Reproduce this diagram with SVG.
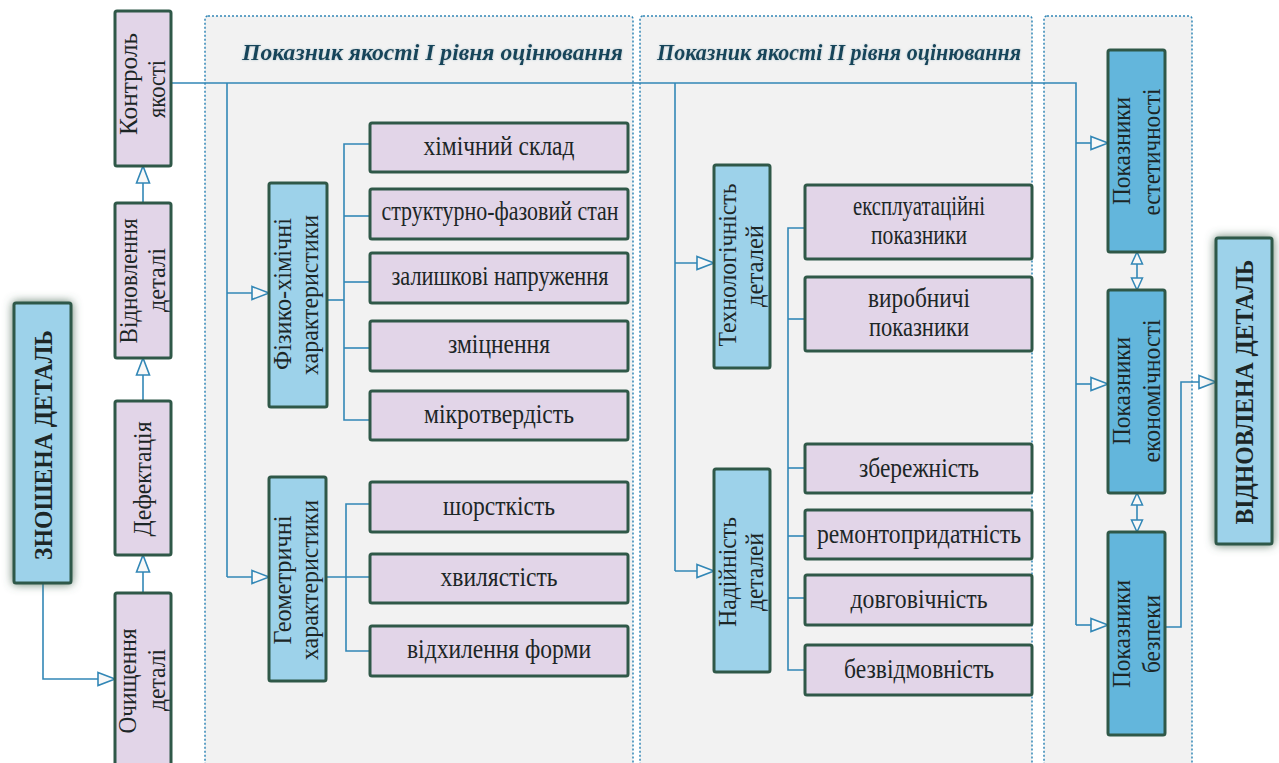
<svg xmlns="http://www.w3.org/2000/svg" width="1279" height="763" viewBox="0 0 1279 763">
<defs>
<style>
.panel{fill:#f2f2f2;stroke:#3287b6;stroke-width:1.5;stroke-dasharray:2 2}
.box{stroke:#2f5848;stroke-width:3}
.pur{fill:#e2d5e8}
.lb{fill:#9dd2ea}
.mb{fill:#63b6dc}
.th{font-family:"Liberation Serif","Times New Roman",serif;font-size:28px;fill:#1c2626;text-anchor:middle}
.tv{font-family:"Liberation Serif","Times New Roman",serif;font-size:26px;fill:#1c2626;text-anchor:middle}
.tb{font-family:"Liberation Serif","Times New Roman",serif;font-size:26px;font-weight:bold;fill:#1c2626;text-anchor:middle}
.title{font-family:"Liberation Serif","Times New Roman",serif;font-size:24px;font-weight:bold;font-style:italic;fill:#17455a}
.c{fill:none;stroke:#3287b6;stroke-width:1.6}
.ca{fill:none;stroke:#3287b6;stroke-width:1.6;marker-end:url(#ah)}
.cd{fill:none;stroke:#3287b6;stroke-width:1.6;marker-start:url(#ahs);marker-end:url(#ahs)}
</style>
<marker id="ah" markerUnits="userSpaceOnUse" markerWidth="20" markerHeight="16" refX="17" refY="7" orient="auto" overflow="visible">
<path d="M0,0.5 L17,7 L0,13.5 Z" fill="#f8f8f8" stroke="#3287b6" stroke-width="1.6"/>
</marker>
<marker id="ahs" markerUnits="userSpaceOnUse" markerWidth="14" markerHeight="12" refX="12" refY="6" orient="auto-start-reverse" overflow="visible">
<path d="M0,0.5 L12,6 L0,11.5 Z" fill="#f8f8f8" stroke="#3287b6" stroke-width="1.5"/>
</marker>
<marker id="af" markerUnits="userSpaceOnUse" markerWidth="12" markerHeight="10" refX="10" refY="4" orient="auto" overflow="visible">
<path d="M0,0 L10,4 L0,8 L3,4 Z" fill="#3287b6"/>
</marker>
<filter id="glow" x="-50%" y="-20%" width="200%" height="140%">
<feGaussianBlur in="SourceAlpha" stdDeviation="5" result="b"/>
<feFlood flood-color="#4a6a56" flood-opacity="0.85" result="f"/>
<feComposite in="f" in2="b" operator="in" result="s"/>
<feMerge><feMergeNode in="s"/><feMergeNode in="SourceGraphic"/></feMerge>
</filter>
<filter id="tglow" x="-5%" y="-30%" width="110%" height="160%">
<feGaussianBlur in="SourceAlpha" stdDeviation="1.2" result="b"/>
<feFlood flood-color="#8fb0bd" flood-opacity="0.7" result="f"/>
<feComposite in="f" in2="b" operator="in" result="s"/>
<feMerge><feMergeNode in="s"/><feMergeNode in="SourceGraphic"/></feMerge>
</filter>
</defs>

<rect width="1279" height="763" fill="#ffffff"/>

<g id="panels">
<rect class="panel" x="205" y="16" width="428" height="760" rx="3"/>
<rect class="panel" x="640" y="16" width="392" height="760" rx="3"/>
<rect class="panel" x="1044" y="16" width="148" height="760" rx="3"/>
<text class="title" x="242" y="60" textLength="381" lengthAdjust="spacingAndGlyphs" filter="url(#tglow)">Показник якості І рівня оцінювання</text>
<text class="title" x="657" y="60" textLength="364" lengthAdjust="spacingAndGlyphs" filter="url(#tglow)">Показник якості ІІ рівня оцінювання</text>
</g>

<g id="connectors">
<polyline class="c" points="171,83 1076,83 1076,625"/>
<line class="ca" x1="1076" y1="143" x2="1108" y2="143"/>
<line class="ca" x1="1076" y1="384" x2="1108" y2="384"/>
<line class="ca" x1="1076" y1="625" x2="1108" y2="625"/>
<polyline class="c" points="227,83 227,577"/>
<line class="ca" x1="227" y1="293" x2="269" y2="293"/>
<line class="ca" x1="227" y1="577" x2="269" y2="577"/>
<polyline class="c" points="675,83 675,571"/>
<line class="ca" x1="675" y1="263" x2="714" y2="263"/>
<line class="ca" x1="675" y1="571" x2="714" y2="571"/>
<line class="ca" x1="143" y1="593" x2="143" y2="555"/>
<line class="ca" x1="143" y1="401" x2="143" y2="358"/>
<line class="ca" x1="143" y1="203" x2="143" y2="166"/>
<polyline class="ca" points="43,583 43,679 115,679"/>
<polyline class="c" points="327,300 344,300"/>
<polyline class="c" points="370,144 344,144 344,420 370,420"/>
<line class="c" x1="344" y1="216" x2="370" y2="216"/>
<line class="c" x1="344" y1="282" x2="370" y2="282"/>
<line class="c" x1="344" y1="348" x2="370" y2="348"/>
<line class="c" x1="326" y1="577" x2="370" y2="577"/>
<polyline class="c" points="370,504 346,504 346,651 370,651"/>
<polyline class="c" points="805,228 788,228 788,670 805,670"/>
<line class="c" x1="788" y1="319" x2="805" y2="319"/>
<line class="c" x1="788" y1="468" x2="805" y2="468"/>
<line class="c" x1="788" y1="536" x2="805" y2="536"/>
<line class="c" x1="788" y1="598" x2="805" y2="598"/>
<line class="cd" x1="1137" y1="252" x2="1137" y2="290"/>
<line class="cd" x1="1137" y1="493" x2="1137" y2="532"/>
<polyline class="ca" points="1165,627 1181,627 1181,382 1216,382"/>
<line x1="1147.5" y1="313" x2="1147.5" y2="346" stroke="#3287b6" stroke-width="1.6" marker-end="url(#af)"/>
</g>

<g id="n-znoshena">
<rect class="box lb" x="14" y="303" width="57" height="280" rx="2" filter="url(#glow)"/>
<text class="tb" transform="translate(52,445) rotate(-90)" textLength="230" lengthAdjust="spacingAndGlyphs">ЗНОШЕНА ДЕТАЛЬ</text>
</g>
<g id="n-ochyshchennia">
<rect class="box pur" x="115" y="593" width="56" height="180" rx="2"/>
<text class="tv" transform="translate(136,681) rotate(-90)" textLength="105" lengthAdjust="spacingAndGlyphs">Очищення</text>
<text class="tv" transform="translate(165,680) rotate(-90)" textLength="62" lengthAdjust="spacingAndGlyphs">деталі</text>
</g>
<g id="n-defektatsiia">
<rect class="box pur" x="115" y="401" width="56" height="154" rx="2"/>
<text class="tv" transform="translate(151,479) rotate(-90)" textLength="115" lengthAdjust="spacingAndGlyphs">Дефектація</text>
</g>
<g id="n-vidnovlennia">
<rect class="box pur" x="115" y="203" width="56" height="155" rx="2"/>
<text class="tv" transform="translate(137,281) rotate(-90)" textLength="125" lengthAdjust="spacingAndGlyphs">Відновлення</text>
<text class="tv" transform="translate(165,280) rotate(-90)" textLength="64" lengthAdjust="spacingAndGlyphs">деталі</text>
</g>
<g id="n-kontrol">
<rect class="box pur" x="115" y="11" width="56" height="155" rx="2"/>
<text class="tv" transform="translate(137,84) rotate(-90)" textLength="102" lengthAdjust="spacingAndGlyphs">Контроль</text>
<text class="tv" transform="translate(165,89) rotate(-90)" textLength="58" lengthAdjust="spacingAndGlyphs">якості</text>
</g>

<g id="n-fizyko">
<rect class="box lb" x="269" y="183" width="58" height="224" rx="2"/>
<text class="tv" transform="translate(291,294) rotate(-90)" textLength="152" lengthAdjust="spacingAndGlyphs">Фізико-хімічні</text>
<text class="tv" transform="translate(318,295) rotate(-90)" textLength="160" lengthAdjust="spacingAndGlyphs">характеристики</text>
</g>
<g id="n-geom">
<rect class="box lb" x="269" y="477" width="57" height="204" rx="2"/>
<text class="tv" transform="translate(291,580) rotate(-90)" textLength="129" lengthAdjust="spacingAndGlyphs">Геометричні</text>
<text class="tv" transform="translate(318,580) rotate(-90)" textLength="160" lengthAdjust="spacingAndGlyphs">характеристики</text>
</g>
<g id="n-khim">
<rect class="box pur" x="370" y="123" width="258" height="49" rx="2"/>
<text class="th" x="499" y="155" textLength="151" lengthAdjust="spacingAndGlyphs">хімічний склад</text>
</g>
<g id="n-struct">
<rect class="box pur" x="370" y="189" width="258" height="50" rx="2"/>
<text class="th" x="500" y="220" textLength="237" lengthAdjust="spacingAndGlyphs">структурно-фазовий стан</text>
</g>
<g id="n-zalysh">
<rect class="box pur" x="370" y="253" width="258" height="50" rx="2"/>
<text class="th" x="500" y="285" textLength="217" lengthAdjust="spacingAndGlyphs">залишкові напруження</text>
</g>
<g id="n-zmitsn">
<rect class="box pur" x="370" y="321" width="258" height="50" rx="2"/>
<text class="th" x="499" y="353" textLength="102" lengthAdjust="spacingAndGlyphs">зміцнення</text>
</g>
<g id="n-mikro">
<rect class="box pur" x="370" y="391" width="258" height="49" rx="2"/>
<text class="th" x="499" y="423" textLength="150" lengthAdjust="spacingAndGlyphs">мікротвердість</text>
</g>
<g id="n-shorst">
<rect class="box pur" x="370" y="482" width="258" height="50" rx="2"/>
<text class="th" x="499" y="515" textLength="112" lengthAdjust="spacingAndGlyphs">шорсткість</text>
</g>
<g id="n-khvyl">
<rect class="box pur" x="370" y="554" width="258" height="49" rx="2"/>
<text class="th" x="499" y="586" textLength="117" lengthAdjust="spacingAndGlyphs">хвилястість</text>
</g>
<g id="n-vidkh">
<rect class="box pur" x="370" y="626" width="258" height="50" rx="2"/>
<text class="th" x="499" y="658" textLength="184" lengthAdjust="spacingAndGlyphs">відхилення форми</text>
</g>

<g id="n-tekhn">
<rect class="box lb" x="714" y="165" width="56" height="203" rx="2"/>
<text class="tv" transform="translate(736,265) rotate(-90)" textLength="163" lengthAdjust="spacingAndGlyphs">Технологічність</text>
<text class="tv" transform="translate(763,266) rotate(-90)" textLength="82" lengthAdjust="spacingAndGlyphs">деталей</text>
</g>
<g id="n-nadiin">
<rect class="box lb" x="714" y="469" width="56" height="203" rx="2"/>
<text class="tv" transform="translate(736,572) rotate(-90)" textLength="110" lengthAdjust="spacingAndGlyphs">Надійність</text>
<text class="tv" transform="translate(763,572) rotate(-90)" textLength="78" lengthAdjust="spacingAndGlyphs">деталей</text>
</g>
<g id="n-ekspl">
<rect class="box pur" x="805" y="185" width="227" height="74" rx="2"/>
<text class="th" x="919" y="215" textLength="132" lengthAdjust="spacingAndGlyphs">експлуатаційні</text>
<text class="th" x="919" y="244" textLength="96" lengthAdjust="spacingAndGlyphs">показники</text>
</g>
<g id="n-vyrob">
<rect class="box pur" x="805" y="277" width="227" height="74" rx="2"/>
<text class="th" x="919" y="307" textLength="102" lengthAdjust="spacingAndGlyphs">виробничі</text>
<text class="th" x="919" y="336" textLength="100" lengthAdjust="spacingAndGlyphs">показники</text>
</g>
<g id="n-zberezh">
<rect class="box pur" x="805" y="444" width="227" height="49" rx="2"/>
<text class="th" x="919" y="477" textLength="120" lengthAdjust="spacingAndGlyphs">збережність</text>
</g>
<g id="n-remont">
<rect class="box pur" x="805" y="510" width="227" height="49" rx="2"/>
<text class="th" x="919" y="543" textLength="204" lengthAdjust="spacingAndGlyphs">ремонтопридатність</text>
</g>
<g id="n-dovh">
<rect class="box pur" x="805" y="575" width="227" height="50" rx="2"/>
<text class="th" x="919" y="608" textLength="137" lengthAdjust="spacingAndGlyphs">довговічність</text>
</g>
<g id="n-bezvidm">
<rect class="box pur" x="805" y="645" width="227" height="50" rx="2"/>
<text class="th" x="919" y="678" textLength="150" lengthAdjust="spacingAndGlyphs">безвідмовність</text>
</g>

<g id="n-estet">
<rect class="box mb" x="1108" y="50" width="57" height="202" rx="2"/>
<text class="tv" transform="translate(1130,151) rotate(-90)" textLength="108" lengthAdjust="spacingAndGlyphs">Показники</text>
<text class="tv" transform="translate(1160,152) rotate(-90)" textLength="127" lengthAdjust="spacingAndGlyphs">естетичності</text>
</g>
<g id="n-ekon">
<rect class="box mb" x="1108" y="290" width="57" height="203" rx="2"/>
<text class="tv" transform="translate(1130,391) rotate(-90)" textLength="108" lengthAdjust="spacingAndGlyphs">Показники</text>
<text class="tv" transform="translate(1160,391) rotate(-90)" textLength="143" lengthAdjust="spacingAndGlyphs">економічності</text>
</g>
<g id="n-bezpeky">
<rect class="box mb" x="1108" y="532" width="57" height="203" rx="2"/>
<text class="tv" transform="translate(1130,634) rotate(-90)" textLength="108" lengthAdjust="spacingAndGlyphs">Показники</text>
<text class="tv" transform="translate(1160,634) rotate(-90)" textLength="78" lengthAdjust="spacingAndGlyphs">безпеки</text>
</g>
<g id="n-vidnovlena">
<rect class="box lb" x="1216" y="238" width="56" height="306" rx="2" filter="url(#glow)"/>
<text class="tb" transform="translate(1253,392) rotate(-90)" textLength="265" lengthAdjust="spacingAndGlyphs">ВІДНОВЛЕНА ДЕТАЛЬ</text>
</g>
</svg>
